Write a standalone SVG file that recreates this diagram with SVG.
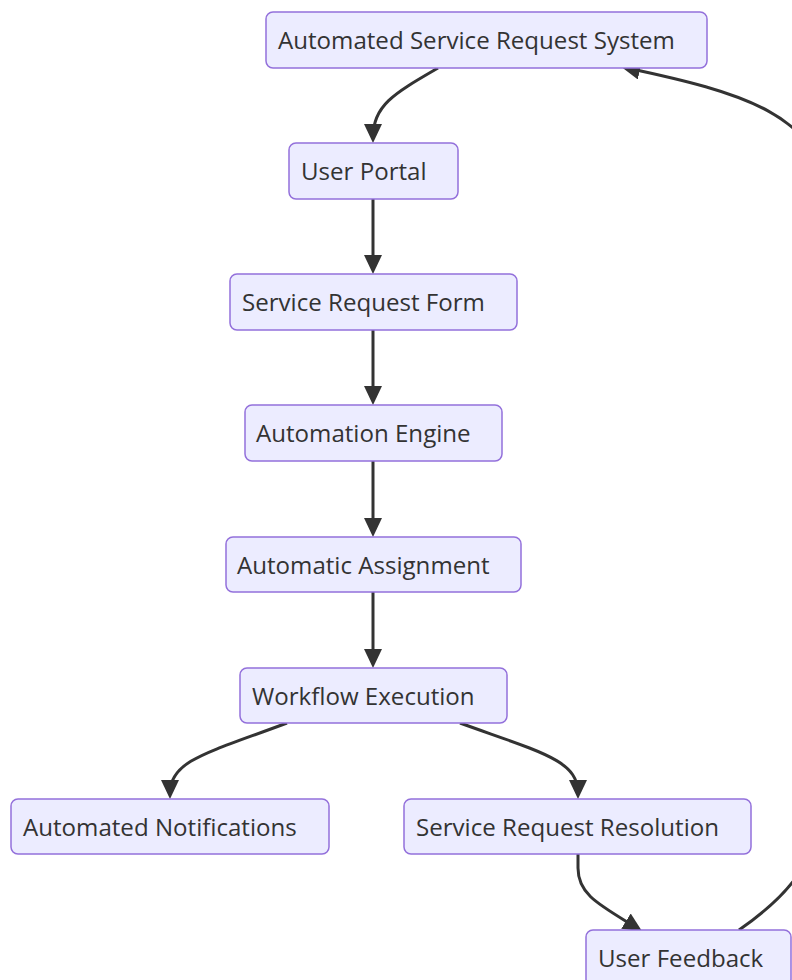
<svg xmlns="http://www.w3.org/2000/svg" width="792" height="980" viewBox="0 0 792 980">
  <style>
    .node rect { fill: #ECECFF; stroke: #9370DB; stroke-width: 1.5; }
    .node text { font-family: "Open Sans", "Noto Sans", "Liberation Sans", sans-serif; font-size: 24.1px; fill: #333333; }
    .edge { fill: none; stroke: #333333; stroke-width: 3; marker-end: url(#arrow); }
  </style>
  <defs>
    <!-- filled arrowhead; tip lands 6px past the path end -->
    <marker id="arrow" viewBox="0 0 10 10" preserveAspectRatio="none" markerUnits="userSpaceOnUse" markerWidth="19" markerHeight="18" refX="6.84" refY="5" orient="auto">
      <path d="M0,0 L10,5 L0,10 z" fill="#333333"/>
    </marker>
  </defs>

  <!-- connectors (drawn under the nodes) -->
  <g id="edges">
    <path class="edge" d="M438,68 C395,93 373,105 373,137"/>
    <path class="edge" d="M373,199 L373,268"/>
    <path class="edge" d="M373,330 L373,399"/>
    <path class="edge" d="M373,461 L373,531"/>
    <path class="edge" d="M373,592 L373,662"/>
    <path class="edge" d="M287,723 C210,752 170,760 170,793"/>
    <path class="edge" d="M460,723 C540,752 578,760 578,793"/>
    <path class="edge" d="M578,854 L578,868 C578,895 600,905 637,928"/>
    <path class="edge" d="M739,930 C785,898 825,860 825,780 L825,200 C825,115 740,92 627,68"/>
  </g>

  <g id="system" class="node">
    <rect x="266" y="12" width="441" height="56" rx="7"/>
    <text x="278" y="49">Automated Service Request System</text>
  </g>
  <g id="portal" class="node">
    <rect x="289" y="143" width="169" height="56" rx="7"/>
    <text x="301" y="180">User Portal</text>
  </g>
  <g id="form" class="node">
    <rect x="230" y="274" width="287" height="56" rx="7"/>
    <text x="242" y="311">Service Request Form</text>
  </g>
  <g id="engine" class="node">
    <rect x="245" y="405" width="257" height="56" rx="7"/>
    <text x="256" y="442">Automation Engine</text>
  </g>
  <g id="assignment" class="node">
    <rect x="226" y="537" width="295" height="55" rx="7"/>
    <text x="237" y="573.5">Automatic Assignment</text>
  </g>
  <g id="workflow" class="node">
    <rect x="240" y="668" width="267" height="55" rx="7"/>
    <text x="252" y="704.5">Workflow Execution</text>
  </g>
  <g id="notifications" class="node">
    <rect x="11" y="799" width="318" height="55" rx="7"/>
    <text x="23" y="835.5">Automated Notifications</text>
  </g>
  <g id="resolution" class="node">
    <rect x="404" y="799" width="347" height="55" rx="7"/>
    <text x="416" y="835.5">Service Request Resolution</text>
  </g>
  <g id="feedback" class="node">
    <rect x="586" y="930" width="205" height="56" rx="7"/>
    <text x="598" y="967">User Feedback</text>
  </g>
</svg>
